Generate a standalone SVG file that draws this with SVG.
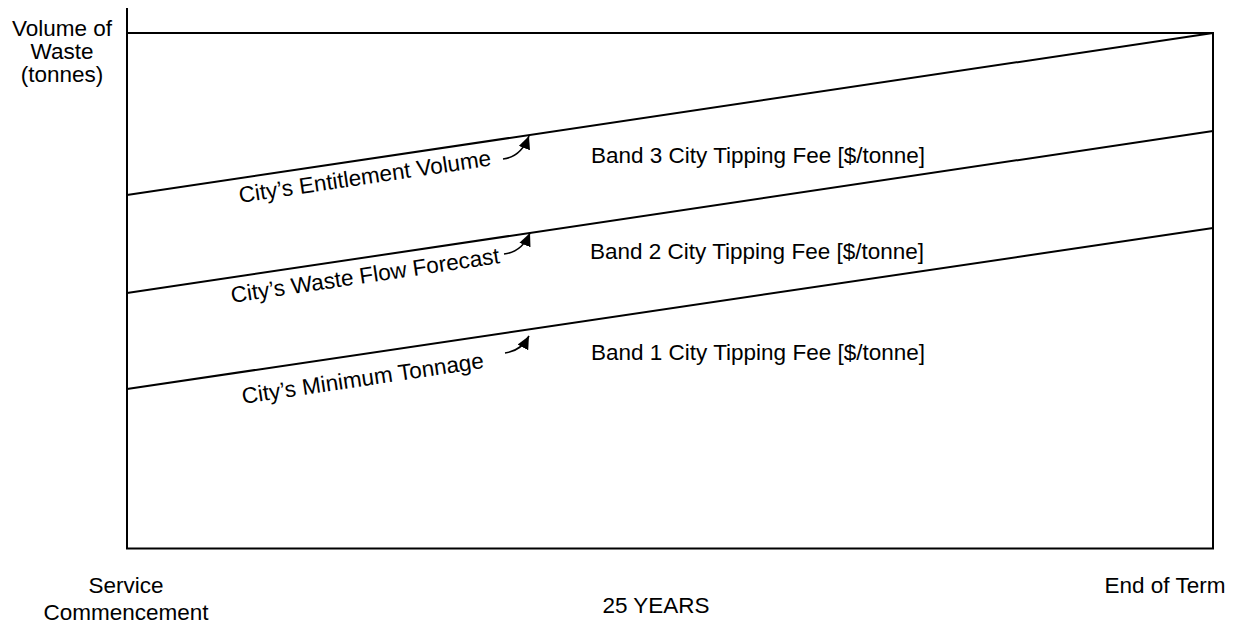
<svg xmlns="http://www.w3.org/2000/svg" width="1237" height="623" viewBox="0 0 1237 623">
<style>
text{font-family:"Liberation Sans",Arial,sans-serif;font-size:22.5px;fill:#000}
.c{text-anchor:middle}
.ax{stroke:#000;stroke-width:2;fill:none}
.ln{stroke:#000;stroke-width:2;fill:none}
.arr{stroke:#000;stroke-width:1.6;fill:none;marker-end:url(#ah)}
</style>
<defs>
<marker id="ah" markerUnits="userSpaceOnUse" markerWidth="14" markerHeight="12" refX="13" refY="6" orient="auto">
<path d="M0,0 L13,6 L0,12 z" fill="#000"/>
</marker>
</defs>
<g id="axes">
<path class="ax" d="M127,8 V548.5 H1214"/>
<path class="ax" d="M127,33 H1213 V548.5"/>
</g>
<g id="connectors">
<line class="ln" x1="127" y1="195" x2="1213" y2="33"/>
<line class="ln" x1="127" y1="293" x2="1213" y2="131"/>
<line class="ln" x1="127" y1="389" x2="1213" y2="228"/>
<path class="arr" d="M503,159 Q521,157 529,136"/>
<path class="arr" d="M504,254 Q522,252 530,233"/>
<path class="arr" d="M505,353 Q521,351 529,336"/>
</g>
<g id="y-label">
<text class="c" x="62" y="36">Volume of</text>
<text class="c" x="62" y="59">Waste</text>
<text class="c" x="62" y="82">(tonnes)</text>
</g>
<g id="entitlement">
<text x="240" y="203" transform="rotate(-8.48 240 203)">City’s Entitlement Volume</text>
</g>
<g id="forecast">
<text x="232" y="303" transform="rotate(-8.48 232 303)">City’s Waste Flow Forecast</text>
</g>
<g id="minimum">
<text x="243" y="404" transform="rotate(-8.48 243 404)">City’s Minimum Tonnage</text>
</g>
<g id="band3"><text class="c" x="758" y="163">Band 3 City Tipping Fee [$/tonne]</text></g>
<g id="band2"><text class="c" x="757" y="259">Band 2 City Tipping Fee [$/tonne]</text></g>
<g id="band1"><text class="c" x="758" y="360">Band 1 City Tipping Fee [$/tonne]</text></g>
<g id="start">
<text class="c" x="126" y="593">Service</text>
<text class="c" x="126" y="620">Commencement</text>
</g>
<g id="years"><text class="c" x="656" y="613">25 YEARS</text></g>
<g id="end"><text class="c" x="1165" y="593">End of Term</text></g>
</svg>
